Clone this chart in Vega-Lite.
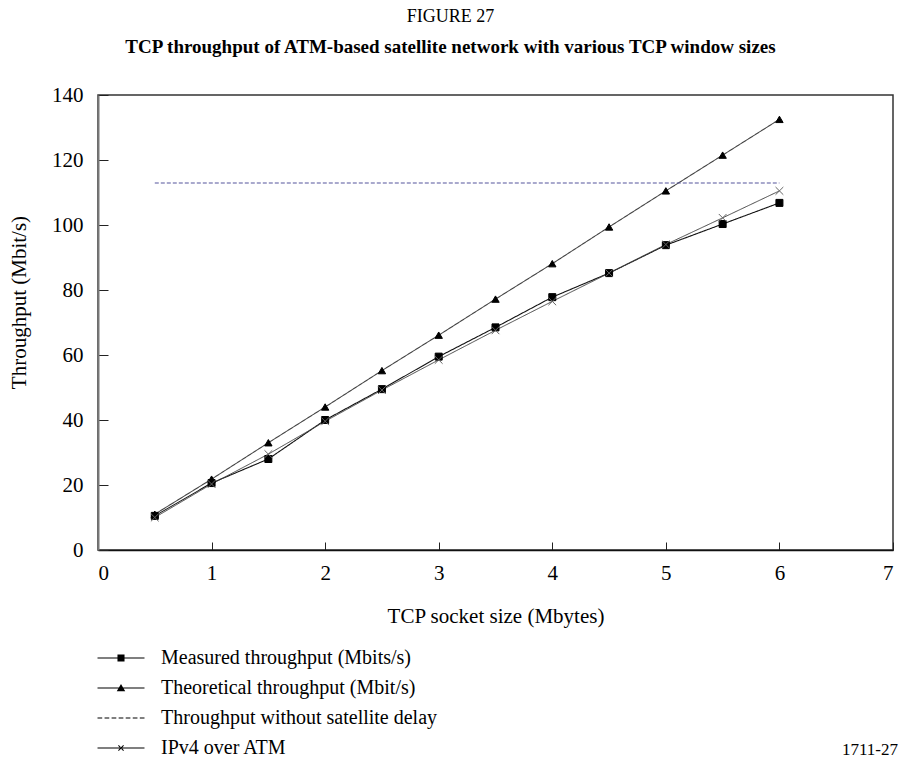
{
  "$schema": "https://vega.github.io/schema/vega-lite/v6.json",
  "autosize": {"type": "none"},
  "padding": {"left": 98, "top": 95, "right": 8, "bottom": 212},
  "width": 795,
  "height": 455,
  "background": "white",
  "config": {
    "view": {"stroke": "#333", "strokeWidth": 1.5},
    "font": "Liberation Serif",
    "axis": {"grid": false, "labelFont": "Liberation Serif", "titleFont": "Liberation Serif", "labelColor": "black", "titleColor": "black", "labelFontSize": 21, "titleFontSize": 21, "titleFontWeight": "normal"}
  },
  "title": {
    "text": "FIGURE 27",
    "subtitle": "TCP throughput of ATM-based satellite network with various TCP window sizes",
    "font": "Liberation Serif", "fontSize": 18, "fontWeight": "normal", "color": "black",
    "subtitleFont": "Liberation Serif", "subtitleFontSize": 19, "subtitleFontWeight": "bold", "subtitleColor": "black",
    "subtitlePadding": 12, "anchor": "middle", "dx": -45, "offset": 27
  },
  "datasets": {
    "main": [
      {"s": 0.5, "v": 10.5, "series": "Measured throughput (Mbits/s)"},
      {"s": 1, "v": 20.6, "series": "Measured throughput (Mbits/s)"},
      {"s": 1.5, "v": 28, "series": "Measured throughput (Mbits/s)"},
      {"s": 2, "v": 40, "series": "Measured throughput (Mbits/s)"},
      {"s": 2.5, "v": 49.5, "series": "Measured throughput (Mbits/s)"},
      {"s": 3, "v": 59.5, "series": "Measured throughput (Mbits/s)"},
      {"s": 3.5, "v": 68.5, "series": "Measured throughput (Mbits/s)"},
      {"s": 4, "v": 77.8, "series": "Measured throughput (Mbits/s)"},
      {"s": 4.5, "v": 85.2, "series": "Measured throughput (Mbits/s)"},
      {"s": 5, "v": 93.8, "series": "Measured throughput (Mbits/s)"},
      {"s": 5.5, "v": 100.3, "series": "Measured throughput (Mbits/s)"},
      {"s": 6, "v": 106.8, "series": "Measured throughput (Mbits/s)"},
      {"s": 0.5, "v": 11, "series": "Theoretical throughput (Mbit/s)"},
      {"s": 1, "v": 21.8, "series": "Theoretical throughput (Mbit/s)"},
      {"s": 1.5, "v": 33, "series": "Theoretical throughput (Mbit/s)"},
      {"s": 2, "v": 44, "series": "Theoretical throughput (Mbit/s)"},
      {"s": 2.5, "v": 55.2, "series": "Theoretical throughput (Mbit/s)"},
      {"s": 3, "v": 66.1, "series": "Theoretical throughput (Mbit/s)"},
      {"s": 3.5, "v": 77.2, "series": "Theoretical throughput (Mbit/s)"},
      {"s": 4, "v": 88.1, "series": "Theoretical throughput (Mbit/s)"},
      {"s": 4.5, "v": 99.4, "series": "Theoretical throughput (Mbit/s)"},
      {"s": 5, "v": 110.5, "series": "Theoretical throughput (Mbit/s)"},
      {"s": 5.5, "v": 121.5, "series": "Theoretical throughput (Mbit/s)"},
      {"s": 6, "v": 132.5, "series": "Theoretical throughput (Mbit/s)"},
      {"s": 0.5, "v": 112.9, "series": "Throughput without satellite delay"},
      {"s": 6, "v": 112.9, "series": "Throughput without satellite delay"},
      {"s": 0.5, "v": 10, "series": "IPv4 over ATM"},
      {"s": 1, "v": 20.3, "series": "IPv4 over ATM"},
      {"s": 1.5, "v": 29.5, "series": "IPv4 over ATM"},
      {"s": 2, "v": 39.6, "series": "IPv4 over ATM"},
      {"s": 2.5, "v": 49.2, "series": "IPv4 over ATM"},
      {"s": 3, "v": 58.5, "series": "IPv4 over ATM"},
      {"s": 3.5, "v": 67.6, "series": "IPv4 over ATM"},
      {"s": 4, "v": 76.5, "series": "IPv4 over ATM"},
      {"s": 4.5, "v": 85.2, "series": "IPv4 over ATM"},
      {"s": 5, "v": 94, "series": "IPv4 over ATM"},
      {"s": 5.5, "v": 102.2, "series": "IPv4 over ATM"},
      {"s": 6, "v": 110.5, "series": "IPv4 over ATM"}
    ],
    "note": [{"label": "1711-27"}]
  },
  "resolve": {"scale": {"shape": "independent", "color": "independent", "stroke": "independent"}, "legend": {"shape": "independent"}},
  "layer": [
    {
      "data": {"name": "main"},
      "mark": {"type": "line"},
      "encoding": {
        "x": {"field": "s", "type": "quantitative", "scale": {"domain": [0, 7], "nice": false},
          "axis": {"values": [0, 1, 2, 3, 4, 5, 6, 7], "format": "d", "title": "TCP socket size (Mbytes)", "tickSize": -8, "tickColor": "#222", "domainColor": "#111", "domainWidth": 1.5, "labelPadding": 20, "titlePadding": 22}},
        "y": {"field": "v", "type": "quantitative", "scale": {"domain": [0, 140], "nice": false},
          "axis": {"values": [0, 20, 40, 60, 80, 100, 120, 140], "title": "Throughput (Mbit/s)", "tickSize": -10, "tickColor": "#222", "domainColor": "#777", "domainWidth": 2, "labelPadding": 25, "titlePadding": 22, "titleY": 207}},
        "detail": {"field": "series"},
        "color": {"field": "series", "type": "nominal", "legend": null,
          "scale": {"domain": ["Measured throughput (Mbits/s)", "Theoretical throughput (Mbit/s)", "Throughput without satellite delay", "IPv4 over ATM"], "range": ["#111111", "#444444", "#55559c", "#444444"]}},
        "strokeWidth": {"field": "series", "type": "nominal", "legend": null,
          "scale": {"domain": ["Measured throughput (Mbits/s)", "Theoretical throughput (Mbit/s)", "Throughput without satellite delay", "IPv4 over ATM"], "range": [1.1, 1, 1.5, 1]}},
        "strokeDash": {"field": "series", "type": "nominal", "legend": null,
          "scale": {"domain": ["Measured throughput (Mbits/s)", "Theoretical throughput (Mbit/s)", "Throughput without satellite delay", "IPv4 over ATM"], "range": [[1, 0], [1, 0], [4, 2], [1, 0]]}}
      }
    },
    {
      "data": {"name": "main"},
      "transform": [{"filter": "datum.series !== 'Throughput without satellite delay'"}],
      "mark": {"type": "point", "filled": true, "opacity": 1, "strokeWidth": 1},
      "encoding": {
        "x": {"field": "s", "type": "quantitative"},
        "y": {"field": "v", "type": "quantitative"},
        "shape": {"field": "series", "type": "nominal", "legend": null,
          "scale": {"domain": ["Measured throughput (Mbits/s)", "Theoretical throughput (Mbit/s)", "IPv4 over ATM"], "range": ["square", "triangle-up", "M-1,-1L1,1M-1,1L1,-1"]}},
        "size": {"field": "series", "type": "nominal", "legend": null,
          "scale": {"domain": ["Measured throughput (Mbits/s)", "Theoretical throughput (Mbit/s)", "IPv4 over ATM"], "range": [49, 60, 36]}},
        "color": {"field": "series", "type": "nominal", "legend": null,
          "scale": {"domain": ["Measured throughput (Mbits/s)", "Theoretical throughput (Mbit/s)", "IPv4 over ATM"], "range": ["#000000", "#000000", "#666666"]}},
        "stroke": {"field": "series", "type": "nominal", "legend": null,
          "scale": {"domain": ["Measured throughput (Mbits/s)", "Theoretical throughput (Mbit/s)", "IPv4 over ATM"], "range": ["#000000", "#000000", "#666666"]}}
      }
    },
    {
      "data": {"name": "main"},
      "mark": {"type": "point", "filled": true, "opacity": 0, "size": 552, "color": "black"},
      "encoding": {
        "x": {"field": "s", "type": "quantitative"},
        "y": {"field": "v", "type": "quantitative"},
        "shape": {"field": "series", "type": "nominal",
          "scale": {"domain": ["Measured throughput (Mbits/s)", "Theoretical throughput (Mbit/s)", "Throughput without satellite delay", "IPv4 over ATM"],
            "range": [
              "M-2,-0.045H2V0.045H-2ZM-0.3,-0.3H0.3V0.3H-0.3Z",
              "M-2,-0.045H2V0.045H-2ZM0,-0.34L0.36,0.28H-0.36Z",
              "M-2,-0.045H-1.6V0.045H-2ZM-1.4,-0.045H-1V0.045H-1.4ZM-0.8,-0.045H-0.4V0.045H-0.8ZM-0.2,-0.045H0.2V0.045H-0.2ZM0.4,-0.045H0.8V0.045H0.4ZM1,-0.045H1.4V0.045H1ZM1.6,-0.045H2V0.045H1.6Z",
              "M-2,-0.045H2V0.045H-2ZM-0.25,-0.19L0.19,0.25L0.25,0.19L-0.19,-0.25ZM-0.25,0.19L0.19,-0.25L0.25,-0.19L-0.19,0.25Z"
            ]},
          "legend": {
            "title": null, "orient": "none", "legendX": 11, "legendY": 551, "padding": 0,
            "symbolSize": 552, "labelOffset": 28, "rowPadding": 8,
            "labelFont": "Liberation Serif", "labelFontSize": 20, "labelColor": "black", "labelLimit": 0,
            "symbolOpacity": 1, "symbolFillColor": "#111", "symbolStrokeWidth": 0,
            "encode": {"symbols": {"update": {"opacity": {"value": 1}, "fill": {"value": "#111"}, "stroke": {"value": "transparent"}, "strokeWidth": {"value": 0}}}}
          }
        }
      }
    },
    {
      "data": {"name": "note"},
      "mark": {"type": "text", "align": "right", "baseline": "middle", "font": "Liberation Serif", "fontSize": 17, "color": "black", "dx": 5},
      "encoding": {
        "x": {"datum": 7, "type": "quantitative"},
        "y": {"datum": -61.5, "type": "quantitative"},
        "text": {"field": "label"}
      }
    }
  ]
}
